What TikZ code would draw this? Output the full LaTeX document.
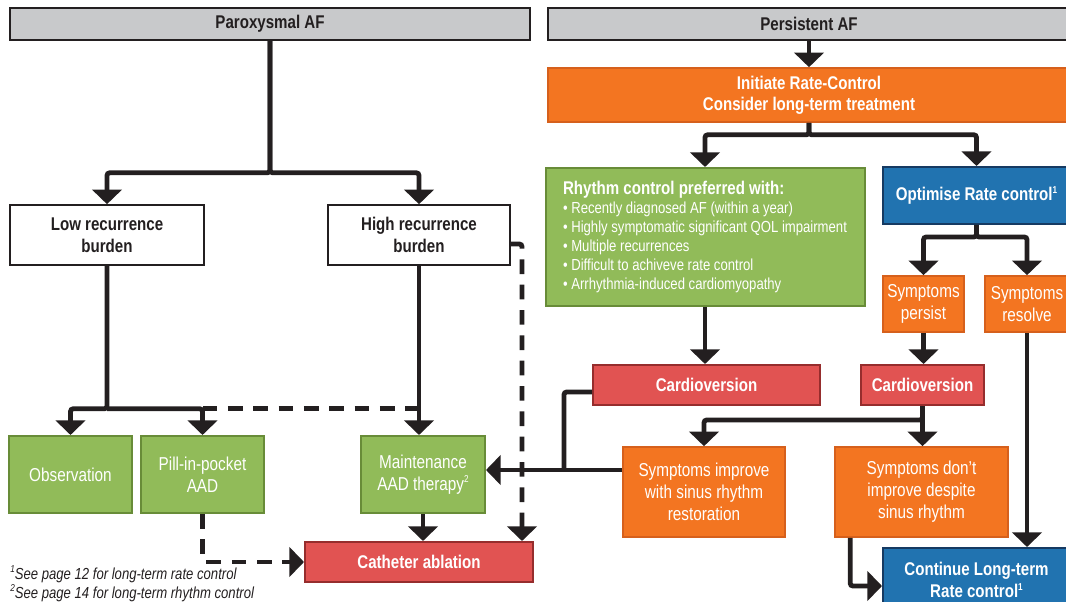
\documentclass[tikz,border=0pt]{standalone}
\usepackage{fontspec}
\setmainfont[FakeStretch=0.82]{Liberation Sans}
\usetikzlibrary{arrows.meta}
\definecolor{ink}{RGB}{35,31,32}
\definecolor{hdrgray}{RGB}{200,201,203}
\definecolor{afgreen}{RGB}{145,187,89}
\definecolor{afgreenline}{RGB}{104,140,56}
\definecolor{aforange}{RGB}{243,117,33}
\definecolor{aforangeline}{RGB}{214,96,28}
\definecolor{afred}{RGB}{225,83,82}
\definecolor{afredline}{RGB}{150,45,45}
\definecolor{afblue}{RGB}{33,115,176}
\definecolor{afblueline}{RGB}{22,58,98}
\newcommand{\fnmark}[1]{\raisebox{0.75ex}{\fontsize{7.5}{8}\selectfont #1}}

\begin{document}
\begin{tikzpicture}[x=0.75pt,y=0.75pt,yscale=-1,xscale=1,
  hdr/.style={draw=ink,fill=hdrgray,line width=1.2pt,text=ink,font=\bfseries\fontsize{13.8}{16}\selectfont},
  wbox/.style={draw=ink,fill=white,line width=1.2pt,align=center,text=ink,font=\bfseries\fontsize{13.8}{16.5}\selectfont},
  gbox/.style={draw=afgreenline,fill=afgreen,line width=1.5pt,align=center,text=white,font=\fontsize{14}{16.5}\selectfont},
  obox/.style={draw=aforangeline,fill=aforange,line width=1.2pt,align=center,text=white,font=\fontsize{14}{16.5}\selectfont},
  rbox/.style={draw=afredline,fill=afred,line width=1.5pt,align=center,text=white,font=\bfseries\fontsize{13.8}{16}\selectfont},
  bbox/.style={draw=afblueline,fill=afblue,line width=1.5pt,align=center,text=white,font=\bfseries\fontsize{13.8}{16.5}\selectfont},
  conn/.style={draw=ink,line width=3.6pt,rounded corners=2pt},
  arr/.style={conn,-{Triangle[length=11pt,width=22pt]}},
  dasharr/.style={arr,dash pattern=on 11pt off 8pt}]
\useasboundingbox (0,0) rectangle (1066,602);
\clip (0,0) rectangle (1066,602);

% headers
\node[hdr,minimum width=390pt,minimum height=24pt] (parox) at (270,24) {Paroxysmal AF};
\node[hdr,minimum width=391.5pt,minimum height=24pt] (persist) at (809,24) {Persistent AF};

% paroxysmal side
\node[wbox,minimum width=145.5pt,minimum height=45pt] (low) at (107,235) {Low recurrence\\burden};
\node[wbox,minimum width=136.5pt,minimum height=45pt] (high) at (419,235) {High recurrence\\burden};
\node[gbox,minimum width=92.25pt,minimum height=57.75pt] (obs) at (70.5,474.5) {Observation};
\node[gbox,minimum width=92.25pt,minimum height=57.75pt] (pill) at (202.5,474.5) {Pill-in-pocket\\AAD};
\node[gbox,minimum width=93pt,minimum height=57.75pt] (maint) at (423,474.5) {Maintenance\\AAD therapy\fnmark{2}};
\node[rbox,minimum width=171pt,minimum height=30pt] (cath) at (419,562) {Catheter ablation};

% persistent side
\node[obox,font=\bfseries\fontsize{13.8}{16}\selectfont,minimum width=391.5pt,minimum height=40.5pt] (init) at (809,95) {Initiate Rate-Control\\Consider long-term treatment};
\node[gbox,minimum width=239.25pt,minimum height=103.5pt,align=left,font=\fontsize{12}{14.3}\selectfont] (rhythm) at (705,237)
  {{\bfseries\fontsize{13.8}{14.3}\selectfont Rhythm control preferred with:}\\
   • Recently diagnosed AF (within a year)\\
   • Highly symptomatic significant QOL impairment\\
   • Multiple recurrences\\
   • Difficult to achiveve rate control\\
   • Arrhythmia-induced cardiomyopathy};
\node[bbox,minimum width=140.25pt,minimum height=42.75pt] (optim) at (976.5,195.5) {Optimise Rate control\fnmark{1}};
\node[obox,minimum width=60.75pt,minimum height=42pt,inner xsep=0pt] (sympersist) at (923.5,304) {Symptoms\\persist};
\node[obox,minimum width=63pt,minimum height=42pt,inner xsep=0pt] (symresolve) at (1027,304) {Symptoms\\resolve};
\node[rbox,minimum width=170.25pt,minimum height=30pt] (cardioa) at (706.5,385) {Cardioversion};
\node[rbox,minimum width=92.25pt,minimum height=30pt] (cardiob) at (922.5,385) {Cardioversion};
\node[obox,minimum width=121.5pt,minimum height=67.5pt] (improve) at (704,492) {Symptoms improve\\with sinus rhythm\\restoration};
\node[obox,minimum width=129.75pt,minimum height=67.5pt] (noimprove) at (921.5,492) {Symptoms don’t\\improve despite\\sinus rhythm};
\node[bbox,minimum width=140.25pt,minimum height=48pt] (cont) at (976.5,580) {Continue Long-term\\Rate control\fnmark{1}};

% footnotes
\node[anchor=base west,inner sep=0pt,text=ink,font=\itshape\fontsize{12}{14}\selectfont] (fnone) at (10,579) {\fnmark{1}See page 12 for long-term rate control};
\node[anchor=base west,inner sep=0pt,text=ink,font=\itshape\fontsize{12}{14}\selectfont] (fntwo) at (10,598) {\fnmark{2}See page 14 for long-term rhythm control};

% connectors, paroxysmal
\draw[arr] (parox.south) -- ++(0,132) -| (low.north);
\draw[arr] (parox.south) -- ++(0,132) -| (high.north);
\path (low.south) ++(0,143) coordinate (lowbar);
\draw[dasharr,-] (pill.north |- lowbar) -- (maint.north |- lowbar);
\draw[arr] (low.south) -- (lowbar) -| (obs.north);
\draw[arr] (lowbar) -| (pill.north);
\draw[arr] (high.south) -- (high.south |- maint.north);
\draw[dasharr] ([yshift=6.75pt]high.east) -| ([xshift=-9pt]cath.north east);
\draw[dasharr] (pill.south) |- (cath.west);
\draw[arr] (maint.south) -- (maint.south |- cath.north);

% connectors, persistent
\draw[arr] (persist.south) -- (persist.south |- init.north);
\draw[arr] (init.south) -- ++(0,12) -| (rhythm.north);
\draw[arr] (init.south) -- ++(0,12) -| (optim.north);
\draw[arr] (optim.south) -- ++(0,12) -| (sympersist.north);
\draw[arr] (optim.south) -- ++(0,12) -| (symresolve.north);
\draw[arr] (rhythm.south) -- (rhythm.south |- cardioa.north);
\draw[arr] (sympersist.south) -- (sympersist.south |- cardiob.north);
\draw[arr] (cardiob.south) -- ++(0,14) -| (improve.north);
\draw[arr] (cardiob.south) -- (cardiob.south |- noimprove.north);
\draw[arr] (symresolve.south) -- (symresolve.south |- cont.north);
\draw[arr] ([xshift=12pt]noimprove.south west) |- ([yshift=4.5pt]cont.west);
\coordinate (cvjoin) at (564,470);
\draw[conn] ([yshift=5.25pt]cardioa.west) -| (cvjoin);
\draw[arr] (improve.west |- cvjoin) -- (maint.east |- cvjoin);
\end{tikzpicture}
\end{document}
